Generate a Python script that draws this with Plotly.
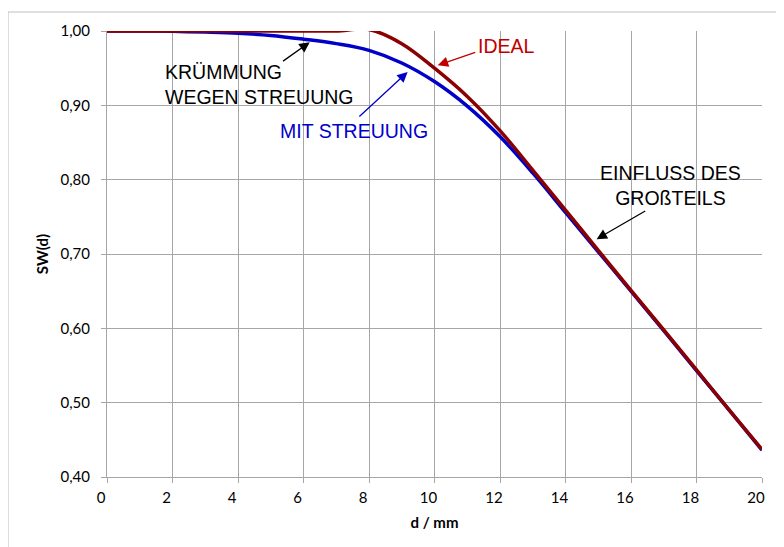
import plotly.graph_objects as go

# Data
d = [0, 1, 2, 3, 4, 5, 6, 7, 8, 9, 10, 11, 12, 13, 14, 15, 16, 17, 18, 19, 20]
sw_ideal = [1.000, 1.000, 1.000, 1.000, 1.000, 1.000, 1.000, 1.000, 1.002, 0.983, 0.950, 0.912, 0.866, 0.813, 0.759, 0.705, 0.651, 0.598, 0.544, 0.490, 0.437]
sw_streu = [1.000, 1.000, 0.9995, 0.9985, 0.997, 0.994, 0.989, 0.983, 0.974, 0.957, 0.932, 0.899, 0.858, 0.809, 0.756, 0.703, 0.650, 0.597, 0.543, 0.490, 0.436]

x_ticks = [0, 2, 4, 6, 8, 10, 12, 14, 16, 18, 20]
y_ticks = [0.4, 0.5, 0.6, 0.7, 0.8, 0.9, 1.0]

TICKFONT = dict(family="Lato", size=15, color="#000000")
ANNFONT = "Liberation Sans"

fig = go.Figure()
fig.add_trace(go.Scatter(x=d, y=sw_streu, mode="lines", name="MIT STREUUNG",
                         line=dict(color="#0000C8", width=3.5, shape="spline", smoothing=1.0)))
fig.add_trace(go.Scatter(x=d, y=sw_ideal, mode="lines", name="IDEAL",
                         line=dict(color="#8B0000", width=3.5, shape="spline", smoothing=1.0)))

anns = [
    # text labels
    dict(x=1.70, y=0.9286, text="KRÜMMUNG<br>WEGEN STREUUNG", xanchor="left", yanchor="middle",
         align="left", showarrow=False, font=dict(family=ANNFONT, size=19.5, color="#000000")),
    dict(x=12.20, y=0.980, text="IDEAL", xanchor="center", yanchor="middle",
         showarrow=False, font=dict(family=ANNFONT, size=19.5, color="#C00000")),
    dict(x=7.54, y=0.865, text="MIT STREUUNG", xanchor="center", yanchor="middle",
         showarrow=False, font=dict(family=ANNFONT, size=19.5, color="#0000CC")),
    dict(x=17.21, y=0.792, text="EINFLUSS DES<br>GROßTEILS", xanchor="center", yanchor="middle",
         align="center", showarrow=False, font=dict(family=ANNFONT, size=19.5, color="#000000")),
    # arrows
    dict(x=6.19, y=0.985, ax=5.33, ay=0.958, axref="x", ayref="y", text="", showarrow=True,
         arrowhead=2, arrowsize=1.6, arrowwidth=1.3, arrowcolor="#000000"),
    dict(x=10.10, y=0.954, ax=11.29, ay=0.972, axref="x", ayref="y", text="", showarrow=True,
         arrowhead=2, arrowsize=1.6, arrowwidth=1.3, arrowcolor="#C00000"),
    dict(x=9.18, y=0.945, ax=7.66, ay=0.883, axref="x", ayref="y", text="", showarrow=True,
         arrowhead=2, arrowsize=1.6, arrowwidth=1.3, arrowcolor="#0000CC"),
    dict(x=14.95, y=0.720, ax=16.48, ay=0.759, axref="x", ayref="y", text="", showarrow=True,
         arrowhead=2, arrowsize=1.6, arrowwidth=1.3, arrowcolor="#000000"),
]

fig.update_layout(
    width=776, height=539,
    margin=dict(l=99, r=22, t=23, b=70),
    paper_bgcolor="white", plot_bgcolor="white",
    separators=",.",
    showlegend=False,
    annotations=anns,
    shapes=[dict(type="rect", xref="paper", yref="paper", x0=-0.1511, x1=1.2, y0=-0.3, y1=1.0426,
                 line=dict(color="#BEBEBE", width=1), layer="below")],
)
fig.update_xaxes(range=[0, 20], tickvals=x_ticks, ticktext=[str(v) for v in x_ticks],
                 showgrid=True, gridcolor="#A6A6A6", gridwidth=1, zeroline=False,
                 showline=True, linecolor="#A6A6A6", linewidth=1,
                 ticks="outside", ticklen=5, tickcolor="#A6A6A6",
                 tickfont=TICKFONT, ticklabelshift=-6, ticklabelstandoff=2,
                 title=dict(text="<b>d / mm</b>", font=dict(family="Lato", size=15, color="#000000"), standoff=12))
fig.update_yaxes(range=[0.4, 1.0], tickvals=y_ticks, tickformat=".2f",
                 showgrid=True, gridcolor="#A6A6A6", gridwidth=1, zeroline=False,
                 showline=True, linecolor="#A6A6A6", linewidth=1,
                 ticks="outside", ticklen=5, tickcolor="#A6A6A6",
                 tickfont=TICKFONT, ticklabelstandoff=8,
                 title=dict(text="<b>SW(d)</b>", font=dict(family="Lato", size=15, color="#000000"), standoff=8))

fig.write_html("out.html")
